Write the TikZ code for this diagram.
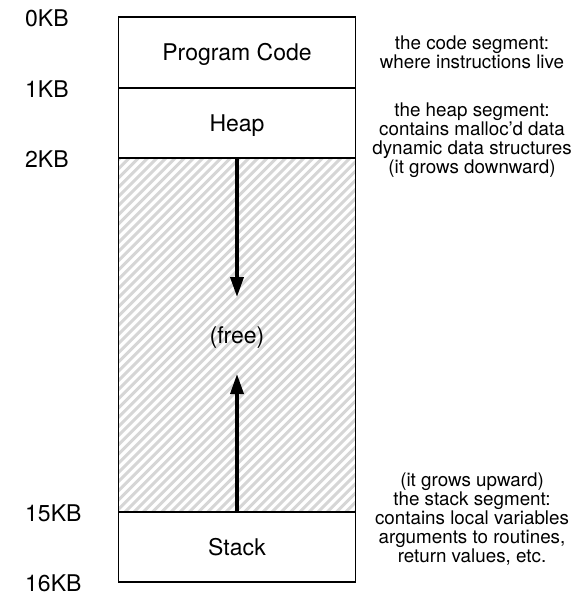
\documentclass[tikz,border=0pt]{standalone}
\usepackage{fontspec}
\setmainfont{TeX Gyre Heros}
\usetikzlibrary{arrows.meta}
\begin{document}
\begin{tikzpicture}[x=1pt,y=-1pt,
  seg/.style={draw=black, line width=1.5pt, minimum width=237pt, inner sep=0pt, text height=16.5pt, text depth=0pt, font=\fontsize{23}{27}\selectfont},
  kb/.style={anchor=base west, inner sep=0pt, font=\fontsize{23}{27}\selectfont},
  note/.style={anchor=north, align=center, inner sep=0pt, font=\fontsize{18.8}{19}\selectfont},
  growarrow/.style={line width=3.5pt, -{Triangle[length=20pt,width=13pt]}},
  hatchline/.style={draw=black!16, line width=3pt}]
\useasboundingbox (0,0) rectangle (582,603);
\node[seg, minimum height=354pt, path picture={
  \foreach \k in {0,...,68} {
    \draw[hatchline] ([xshift={\k*9.2pt-380pt}]path picture bounding box.south west) -- ++(400pt,400pt);
  }}] (free) at (237,335) {(free)};
\node[seg, minimum height=71pt] (code) at (237,52.5) {Program Code};
\node[seg, minimum height=70pt] (heap) at (237,123) {Heap};
\node[seg, minimum height=70pt] (stack) at (237,547) {Stack};
\coordinate (dtip) at (237,297);
\coordinate (utip) at (237,374);
\draw[growarrow] (free.north) -- (dtip);
\draw[growarrow] (free.south) -- (utip);
\node[kb] (kb0) at (25,26) {0KB};
\node[kb] (kb1) at (25,97) {1KB};
\node[kb] (kb2) at (25,167) {2KB};
\node[kb] (kb15) at (25,521) {15KB};
\node[kb] (kb16) at (25,591) {16KB};
\node[note] (ncode) at (472,35.5) {the code segment:\\where instructions live};
\node[note] (nheap) at (472,102.5) {the heap segment:\\contains malloc'd data\\dynamic data structures\\(it grows downward)};
\node[note] (nstack) at (472,473) {(it grows upward)\\the stack segment:\\contains local variables\\arguments to routines,\\return values, etc.};
\end{tikzpicture}
\end{document}
